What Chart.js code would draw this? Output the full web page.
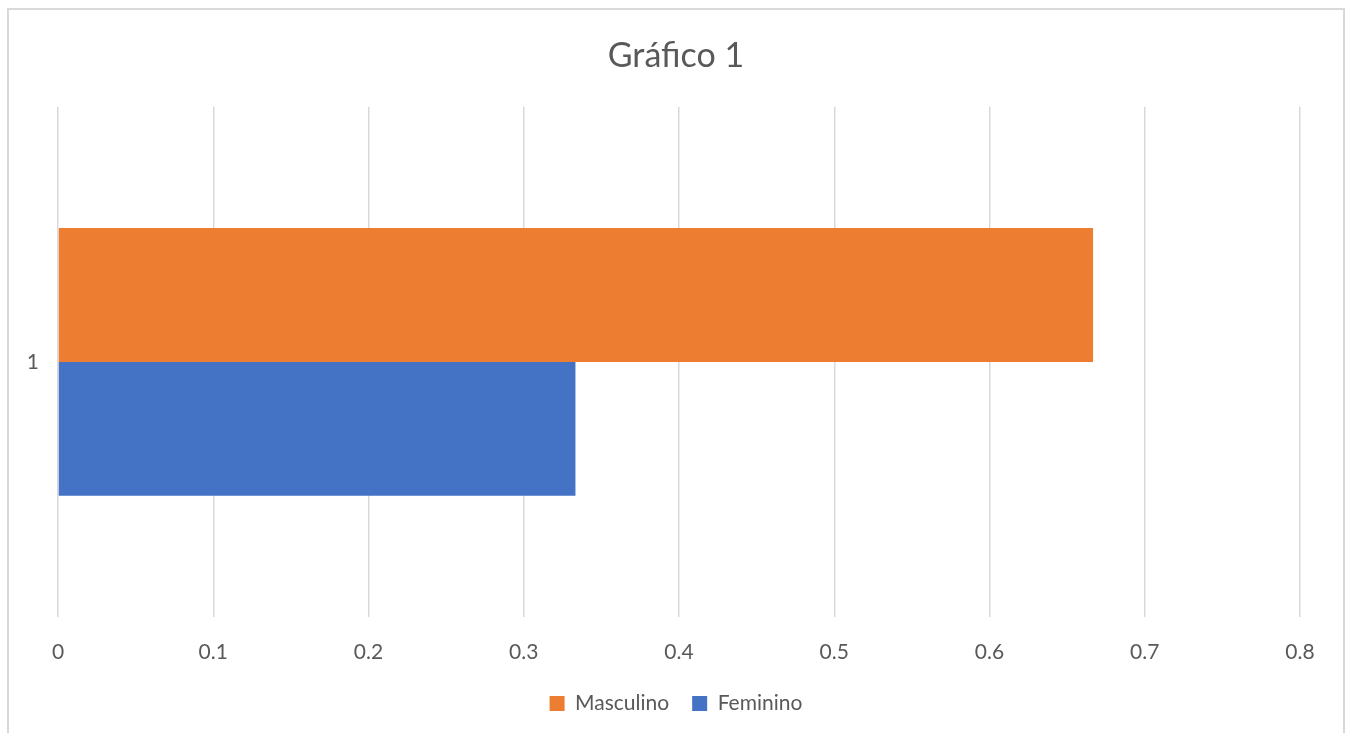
<!DOCTYPE html>
<html>
<head>
<meta charset="utf-8">
<title>Gráfico 1</title>
<script src="https://cdn.jsdelivr.net/npm/chart.js@4"></script>
<style>
  html, body { margin: 0; padding: 0; background: #fff; overflow: hidden; }
  #frame {
    position: absolute; left: 7px; top: 8px; right: 1px; bottom: -10px;
    border: 2px solid #d9d9d9;
  }
  #wrap { position: absolute; left: 0; top: 0; width: 1346px; height: 733px; }
</style>
</head>
<body>
<div id="frame"></div>
<div id="wrap"><canvas id="js--chart"></canvas></div>
<script>
const labels = ["1"]
const masculino = [0.6667]
const feminino = [0.3333]
const xTicks = [0, 0.1, 0.2, 0.3, 0.4, 0.5, 0.6, 0.7, 0.8]

const grey = "#595959"

// title and legend sit centred on the framed box, not on the plot
const centreOnFrame = {
    id: "centreOnFrame",
    afterLayout(chart) {
        const boxes = [chart.titleBlock, chart.legend]
        boxes.forEach(box => {
            if (!box) return
            box.left = 7
            box.right = 1345
            box.width = 1338
        })
        if (chart.legend && chart.legend.adjustHitBoxes) chart.legend.adjustHitBoxes()
    }
}

const data = {
    labels: labels,
    datasets: [
        {
            label: "Masculino",
            data: masculino,
            backgroundColor: "#ED7D31",
            categoryPercentage: 0.525,
            barPercentage: 1.0,
        },
        {
            label: "Feminino",
            data: feminino,
            backgroundColor: "#4472C4",
            categoryPercentage: 0.525,
            barPercentage: 1.0,
        },
    ]
}

const config = {
    type: "bar",
    data: data,
    plugins: [centreOnFrame],
    options: {
        indexAxis: "y",
        responsive: true,
        maintainAspectRatio: false,
        animation: false,
        layout: { padding: { left: 0, right: 46, top: 0, bottom: 9 } },
        plugins: {
            title: {
                display: true,
                text: "Gráfico 1",
                color: grey,
                font: { family: "Lato", size: 34, weight: "normal" },
                padding: { top: 36, bottom: 30 },
            },
            legend: {
                position: "bottom",
                labels: {
                    color: grey,
                    font: { family: "Lato", size: 21 },
                    boxWidth: 15,
                    boxHeight: 15,
                    padding: 23,
                },
            },
            tooltip: { enabled: false },
        },
        scales: {
            x: {
                min: 0,
                max: 0.8,
                afterBuildTicks: (axis) => {
                    axis.ticks = xTicks.map(v => ({ value: v }))
                },
                afterFit: (axis) => { axis.height = 53 },
                grid: { color: "#d9d9d9", lineWidth: 1.5, drawTicks: false },
                border: { display: false },
                ticks: {
                    color: grey,
                    padding: 23,
                    font: { family: "Lato", size: 21 },
                },
            },
            y: {
                afterFit: (axis) => { axis.width = 58 },
                grid: { display: false },
                border: { display: false },
                ticks: {
                    color: grey,
                    padding: 11,
                    font: { family: "Lato", size: 21 },
                },
            },
        },
    },
}

new Chart(document.getElementById("js--chart"), config)
</script>
</body>
</html>
